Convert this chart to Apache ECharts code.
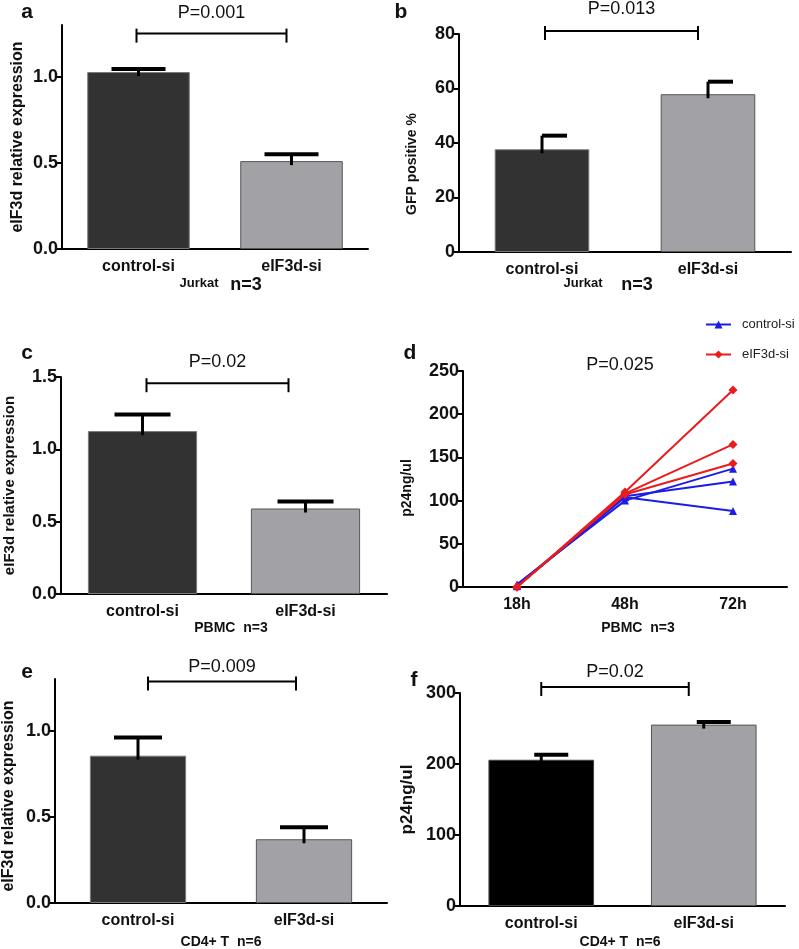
<!DOCTYPE html>
<html>
<head>
<meta charset="utf-8">
<script src="https://cdn.jsdelivr.net/npm/echarts@6/dist/echarts.min.js"></script>
<style>
html,body{margin:0;padding:0;background:#fff;}
#main{width:799px;height:949px;}
</style>
</head>
<body>
<div id="main"></div>
<script>
// ---------------- DATA ----------------
const categories = ['control-si', 'eIF3d-si'];
const timePoints = ['18h', '48h', '72h'];

const aMean = [1.027, 0.51];
const aUpper = [1.045, 0.55];
const bMean = [37.7, 57.9];
const bUpper = [42.7, 62.5];
const cMean = [1.126, 0.591];
const cUpper = [1.24, 0.639];
const eMean = [0.855, 0.37];
const eUpper = [0.96, 0.44];
const fMean = [206, 255.5];
const fUpper = [213, 259];

const dControl1 = [3, 100, 137];
const dControl2 = [2, 105, 122];
const dControl3 = [1, 104, 88];
const dEIF1 = [0, 110, 228];
const dEIF2 = [0, 108, 165];
const dEIF3 = [0, 107, 143];

const aTicks = [0, 0.5, 1.0];
const bTicks = [0, 20, 40, 60, 80];
const cTicks = [0, 0.5, 1.0, 1.5];
const dTicks = [0, 50, 100, 150, 200, 250];
const eTicks = [0, 0.5, 1.0];
const fTicks = [0, 100, 200, 300];

const pLabels = ['P=0.001', 'P=0.013', 'P=0.02', 'P=0.025', 'P=0.009', 'P=0.02'];
const bracketLevels = [1.25, 81.1, 1.457, 1.285, 308.4];

// ---------------- STYLE ----------------
const FONT = 'Arial, "Liberation Sans", sans-serif';
const darkBar = { color: '#323232', borderColor: '#7a7a7a', borderWidth: 1 };
const greyBar = { color: '#a2a2a6', borderColor: '#555555', borderWidth: 1 };
const blackBar = { color: '#000000', borderColor: '#444444', borderWidth: 1 };

const grids = [
  { left: 62, top: 25, width: 306, height: 224 },   // a
  { left: 459, top: 34, width: 332, height: 218 },  // b
  { left: 61, top: 377, width: 326, height: 217 },  // c
  { left: 463, top: 371, width: 324, height: 216 }, // d
  { left: 54, top: 679, width: 333, height: 224 },  // e
  { left: 460, top: 693, width: 325, height: 213 }  // f
];

function xAxis(gi, data) {
  return {
    type: 'category', gridIndex: gi, data: data,
    axisLine: { lineStyle: { color: '#000', width: 2 } },
    axisTick: { alignWithLabel: true, length: 5, lineStyle: { color: '#000', width: 2 } },
    axisLabel: { color: '#111', fontSize: 16, fontWeight: 'bold', fontFamily: FONT, margin: 10 },
    splitLine: { show: false }
  };
}
function yAxis(gi, max, ticks, name, nameSize, nameGap, shift, decimals) {
  return {
    type: 'value', gridIndex: gi, min: 0, max: max,
    name: name, nameLocation: 'middle', nameGap: nameGap,
    nameTextStyle: { fontSize: nameSize, fontWeight: 'bold', fontFamily: FONT, color: '#111',
      padding: shift > 0 ? [0, shift, 0, 0] : [0, 0, 0, 0] },
    axisLine: { show: true, lineStyle: { color: '#000', width: 2 } },
    axisTick: { show: true, length: 5, customValues: ticks, lineStyle: { color: '#000', width: 2 } },
    axisLabel: { customValues: ticks, color: '#111', fontSize: 18, fontWeight: 'bold', fontFamily: FONT, margin: 4,
      formatter: v => v.toFixed(decimals) },
    splitLine: { show: false }
  };
}

function barSeries(gi, means, styles, width) {
  return {
    type: 'bar', xAxisIndex: gi, yAxisIndex: gi, barWidth: width,
    data: means.map((v, i) => ({ value: v, itemStyle: styles[i] })),
    z: 2
  };
}

function errSeries(gi, means, uppers, capL, capR) {
  return {
    type: 'custom', xAxisIndex: gi, yAxisIndex: gi, z: 3, silent: true,
    data: means.map((m, i) => [i, m, uppers[i]]),
    renderItem: function (params, api) {
      const x = api.value(0);
      const p0 = api.coord([x, api.value(1)]);
      const p1 = api.coord([x, api.value(2)]);
      return {
        type: 'group', children: [
          { type: 'line', shape: { x1: p0[0], y1: p0[1] + 4, x2: p1[0], y2: p1[1] }, style: { stroke: '#000', lineWidth: 3 } },
          { type: 'line', shape: { x1: p1[0] + capL, y1: p1[1], x2: p1[0] + capR, y2: p1[1] }, style: { stroke: '#000', lineWidth: 4 } }
        ]
      };
    }
  };
}

function bracketSeries(gi, level, label, dl, dr, textOffset) {
  return {
    type: 'custom', xAxisIndex: gi, yAxisIndex: gi, z: 3, silent: true, clip: false,
    data: [[0, 1, level]],
    renderItem: function (params, api) {
      const a = api.coord([api.value(0), api.value(2)]);
      const b = api.coord([api.value(1), api.value(2)]);
      const x1 = a[0] + dl, x2 = b[0] + dr, y = a[1];
      return {
        type: 'group', children: [
          { type: 'line', shape: { x1: x1, y1: y, x2: x2, y2: y }, style: { stroke: '#000', lineWidth: 2 } },
          { type: 'line', shape: { x1: x1, y1: y - 5, x2: x1, y2: y + 9 }, style: { stroke: '#000', lineWidth: 2 } },
          { type: 'line', shape: { x1: x2, y1: y - 5, x2: x2, y2: y + 9 }, style: { stroke: '#000', lineWidth: 2 } },
          { type: 'text', style: { text: label, x: (x1 + x2) / 2, y: y - textOffset, align: 'center', verticalAlign: 'middle',
              fontSize: 18, fontFamily: FONT, fill: '#111' } }
        ]
      };
    }
  };
}

function lineSeries(name, values, color, symbol, size) {
  return {
    type: 'line', name: name, xAxisIndex: 3, yAxisIndex: 3, data: values,
    symbol: symbol, symbolSize: size, showSymbol: true,
    lineStyle: { color: color, width: 2 }, itemStyle: { color: color }, z: 4
  };
}

const BLUE = '#1c1ce6';
const RED = '#e81c1c';

function txt(x, y, text, size, weight) {
  return { type: 'text', x: x, y: y, style: { text: text, fontSize: size, fontWeight: weight || 'bold', fontFamily: FONT,
    fill: '#111', align: 'center', verticalAlign: 'middle' } };
}

const option = {
  backgroundColor: '#fff',
  animation: false,
  grid: grids,
  xAxis: [
    xAxis(0, categories), xAxis(1, categories), xAxis(2, categories),
    xAxis(3, timePoints), xAxis(4, categories), xAxis(5, categories)
  ],
  yAxis: [
    yAxis(0, 1.3, aTicks, 'eIF3d relative expression', 16, 36, 0, 1),
    yAxis(1, 80, bTicks, 'GFP positive %', 14, 40, 42, 0),
    yAxis(2, 1.5, cTicks, 'eIF3d relative expression', 15, 44, 0, 1),
    yAxis(3, 250, dTicks, 'p24ng/ul', 14, 49, 18, 0),
    yAxis(4, 1.3, eTicks, 'eIF3d relative expression', 16, 38, 10, 1),
    yAxis(5, 300, fTicks, 'p24ng/ul', 17, 44, 0, 0)
  ],
  legend: {
    orient: 'vertical', left: 705, top: 318, padding: 0, itemGap: 17,
    itemWidth: 25, itemHeight: 10,
    data: ['control-si', 'eIF3d-si'],
    textStyle: { fontSize: 13, fontFamily: FONT, color: '#222', padding: [0, 0, 0, 6] }
  },
  series: [
    barSeries(0, aMean, [darkBar, greyBar], '67%'),
    errSeries(0, aMean, aUpper, -27, 27),
    bracketSeries(0, bracketLevels[0], pLabels[0], -2, -5, 21),

    barSeries(1, bMean, [darkBar, greyBar], '57%'),
    errSeries(1, bMean, bUpper, 0, 25),
    bracketSeries(1, bracketLevels[1], pLabels[1], 3, -10, 22),

    barSeries(2, cMean, [darkBar, greyBar], '67%'),
    errSeries(2, cMean, cUpper, -28, 28),
    bracketSeries(2, bracketLevels[2], pLabels[2], 4, -17, 21),

    lineSeries('control-si', dControl1, BLUE, 'triangle', 8),
    lineSeries('control-si', dControl2, BLUE, 'triangle', 8),
    lineSeries('control-si', dControl3, BLUE, 'triangle', 8),
    lineSeries('eIF3d-si', dEIF1, RED, 'diamond', 9),
    lineSeries('eIF3d-si', dEIF2, RED, 'diamond', 9),
    lineSeries('eIF3d-si', dEIF3, RED, 'diamond', 9),

    barSeries(4, eMean, [darkBar, greyBar], '58%'),
    errSeries(4, eMean, eUpper, -24, 24),
    bracketSeries(4, bracketLevels[3], pLabels[4], 10, -8, 15),

    barSeries(5, fMean, [blackBar, greyBar], '65%'),
    errSeries(5, fMean, fUpper, -7, 27),
    bracketSeries(5, bracketLevels[4], pLabels[5], 0, -15, 15)
  ],
  graphic: [
    txt(27, 12, 'a', 21), txt(401, 12, 'b', 21), txt(27, 353, 'c', 21),
    txt(410, 353, 'd', 21), txt(27, 672, 'e', 21), txt(414, 680, 'f', 21),
    txt(199, 283, 'Jurkat', 13), txt(246, 285, 'n=3', 18),
    txt(583, 283, 'Jurkat', 13), txt(637, 285, 'n=3', 18),
    txt(231, 628, 'PBMC  n=3', 14), txt(638, 628, 'PBMC  n=3', 14),
    txt(221, 942, 'CD4+ T  n=6', 14), txt(620, 942, 'CD4+ T  n=6', 14),
    txt(620, 365, pLabels[3], 18, 'normal')
  ]
};

const chart = echarts.init(document.getElementById('main'), null, { renderer: 'canvas' });
chart.setOption(option);
</script>
</body>
</html>
